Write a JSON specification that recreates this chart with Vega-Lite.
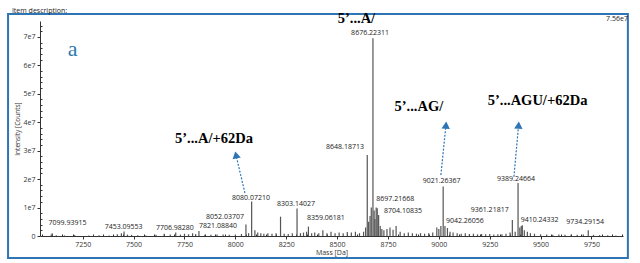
{
  "$schema": "https://vega.github.io/schema/vega-lite/v6.json",
  "width": 583,
  "height": 215,
  "autosize": "none",
  "padding": {"left": 40, "top": 21, "right": 17, "bottom": 27},
  "background": "white",
  "config": {"view": {"stroke": null}, "font": "Open Sans"},
  "datasets": {
    "spectrum": [
      {"mass": 7095, "intensity": 500000}, {"mass": 7099.94, "intensity": 1000000}, {"mass": 7120, "intensity": 300000},
      {"mass": 7160, "intensity": 200000}, {"mass": 7210, "intensity": 300000}, {"mass": 7280, "intensity": 200000},
      {"mass": 7330, "intensity": 300000}, {"mass": 7380, "intensity": 200000}, {"mass": 7420, "intensity": 600000},
      {"mass": 7440, "intensity": 1000000}, {"mass": 7453.1, "intensity": 1600000}, {"mass": 7470, "intensity": 500000},
      {"mass": 7490, "intensity": 400000}, {"mass": 7520, "intensity": 300000}, {"mass": 7560, "intensity": 200000},
      {"mass": 7610, "intensity": 400000}, {"mass": 7650, "intensity": 800000}, {"mass": 7680, "intensity": 500000},
      {"mass": 7706.98, "intensity": 1200000}, {"mass": 7730, "intensity": 500000}, {"mass": 7750, "intensity": 800000},
      {"mass": 7770, "intensity": 600000}, {"mass": 7790, "intensity": 1000000}, {"mass": 7805, "intensity": 600000},
      {"mass": 7821.09, "intensity": 1800000}, {"mass": 7850, "intensity": 400000}, {"mass": 7880, "intensity": 400000},
      {"mass": 7910, "intensity": 500000}, {"mass": 7940, "intensity": 500000}, {"mass": 7970, "intensity": 400000},
      {"mass": 8000, "intensity": 500000}, {"mass": 8030, "intensity": 700000}, {"mass": 8052.04, "intensity": 4000000},
      {"mass": 8065, "intensity": 1000000}, {"mass": 8080.07, "intensity": 12100000}, {"mass": 8096, "intensity": 2000000},
      {"mass": 8110, "intensity": 1200000}, {"mass": 8125, "intensity": 1000000}, {"mass": 8140, "intensity": 800000},
      {"mass": 8160, "intensity": 1000000}, {"mass": 8180, "intensity": 800000}, {"mass": 8200, "intensity": 1000000},
      {"mass": 8222, "intensity": 6800000}, {"mass": 8240, "intensity": 800000}, {"mass": 8260, "intensity": 700000},
      {"mass": 8280, "intensity": 1000000}, {"mass": 8303.14, "intensity": 9700000}, {"mass": 8320, "intensity": 1000000},
      {"mass": 8335, "intensity": 1200000}, {"mass": 8350, "intensity": 1500000}, {"mass": 8359.06, "intensity": 3300000},
      {"mass": 8375, "intensity": 1000000}, {"mass": 8390, "intensity": 1200000}, {"mass": 8410, "intensity": 1000000},
      {"mass": 8430, "intensity": 2000000}, {"mass": 8450, "intensity": 1000000}, {"mass": 8470, "intensity": 1500000},
      {"mass": 8490, "intensity": 1000000}, {"mass": 8510, "intensity": 1200000}, {"mass": 8530, "intensity": 1000000},
      {"mass": 8550, "intensity": 1400000}, {"mass": 8570, "intensity": 1200000}, {"mass": 8590, "intensity": 1500000},
      {"mass": 8610, "intensity": 1000000}, {"mass": 8630, "intensity": 1500000}, {"mass": 8640, "intensity": 3000000},
      {"mass": 8648.19, "intensity": 28500000}, {"mass": 8655, "intensity": 5000000}, {"mass": 8662, "intensity": 7000000},
      {"mass": 8668, "intensity": 10000000}, {"mass": 8676.22, "intensity": 69500000}, {"mass": 8682, "intensity": 9000000},
      {"mass": 8686, "intensity": 6000000}, {"mass": 8692, "intensity": 10000000}, {"mass": 8697.22, "intensity": 9800000},
      {"mass": 8704.11, "intensity": 7400000}, {"mass": 8712, "intensity": 3500000}, {"mass": 8720, "intensity": 2500000},
      {"mass": 8730, "intensity": 2000000}, {"mass": 8745, "intensity": 2500000}, {"mass": 8760, "intensity": 3000000},
      {"mass": 8775, "intensity": 2200000}, {"mass": 8790, "intensity": 3500000}, {"mass": 8810, "intensity": 1500000},
      {"mass": 8830, "intensity": 1000000}, {"mass": 8850, "intensity": 1200000}, {"mass": 8870, "intensity": 1000000},
      {"mass": 8890, "intensity": 800000}, {"mass": 8910, "intensity": 1000000}, {"mass": 8930, "intensity": 800000},
      {"mass": 8950, "intensity": 1000000}, {"mass": 8970, "intensity": 1200000}, {"mass": 8990, "intensity": 3000000},
      {"mass": 9000, "intensity": 2500000}, {"mass": 9010, "intensity": 3500000}, {"mass": 9021.26, "intensity": 17400000},
      {"mass": 9030, "intensity": 3500000}, {"mass": 9042.26, "intensity": 2800000}, {"mass": 9055, "intensity": 1500000},
      {"mass": 9070, "intensity": 1200000}, {"mass": 9090, "intensity": 1000000}, {"mass": 9110, "intensity": 800000},
      {"mass": 9130, "intensity": 1000000}, {"mass": 9150, "intensity": 700000}, {"mass": 9170, "intensity": 800000},
      {"mass": 9190, "intensity": 600000}, {"mass": 9210, "intensity": 700000}, {"mass": 9230, "intensity": 600000},
      {"mass": 9250, "intensity": 700000}, {"mass": 9270, "intensity": 500000}, {"mass": 9290, "intensity": 600000},
      {"mass": 9310, "intensity": 600000}, {"mass": 9330, "intensity": 800000}, {"mass": 9350, "intensity": 1200000},
      {"mass": 9361.22, "intensity": 5600000}, {"mass": 9375, "intensity": 1500000}, {"mass": 9389.25, "intensity": 18600000},
      {"mass": 9398, "intensity": 3000000}, {"mass": 9405, "intensity": 3500000}, {"mass": 9410.24, "intensity": 3800000},
      {"mass": 9420, "intensity": 2000000}, {"mass": 9435, "intensity": 1500000}, {"mass": 9450, "intensity": 1000000},
      {"mass": 9470, "intensity": 800000}, {"mass": 9500, "intensity": 600000}, {"mass": 9530, "intensity": 500000},
      {"mass": 9560, "intensity": 400000}, {"mass": 9590, "intensity": 500000}, {"mass": 9620, "intensity": 400000},
      {"mass": 9650, "intensity": 500000}, {"mass": 9680, "intensity": 400000}, {"mass": 9710, "intensity": 500000},
      {"mass": 9734.29, "intensity": 2000000}, {"mass": 9760, "intensity": 400000}, {"mass": 9790, "intensity": 300000},
      {"mass": 9830, "intensity": 300000}, {"mass": 9870, "intensity": 200000}
    ],
    "peakLabels": [
      {"mass": 7175, "intensity": 4680000, "text": "7099.93915"},
      {"mass": 7451, "intensity": 3270000, "text": "7453.09553"},
      {"mass": 7703, "intensity": 2900000, "text": "7706.98280"},
      {"mass": 7915, "intensity": 3620000, "text": "7821.08840"},
      {"mass": 7949, "intensity": 6570000, "text": "8052.03707"},
      {"mass": 8077, "intensity": 13470000, "text": "8080.07210"},
      {"mass": 8298, "intensity": 11250000, "text": "8303.14027"},
      {"mass": 8445, "intensity": 6430000, "text": "8359.06181"},
      {"mass": 8539, "intensity": 31300000, "text": "8648.18713"},
      {"mass": 8662, "intensity": 71400000, "text": "8676.22311"},
      {"mass": 8786, "intensity": 13000000, "text": "8697.21668"},
      {"mass": 8824, "intensity": 8680000, "text": "8704.10835"},
      {"mass": 9014, "intensity": 19340000, "text": "9021.26367"},
      {"mass": 9128, "intensity": 5270000, "text": "9042.26056"},
      {"mass": 9250, "intensity": 9040000, "text": "9361.21817"},
      {"mass": 9379, "intensity": 19940000, "text": "9389.24664"},
      {"mass": 9495, "intensity": 5630000, "text": "9410.24332"},
      {"mass": 9719, "intensity": 4850000, "text": "9734.29154"}
    ],
    "annotations": [
      {"mass": 8595, "intensity": 76300000, "text": "5’...A/"},
      {"mass": 8902, "intensity": 45460000, "text": "5’...AG/"},
      {"mass": 9485, "intensity": 47570000, "text": "5’...AGU/+62Da"},
      {"mass": 7895, "intensity": 34000000, "text": "5’...A/+62Da"}
    ],
    "arrows": [
      {"m1": 8047, "i1": 15120000, "m2": 8003, "i2": 28500000},
      {"m1": 9010, "i1": 21450000, "m2": 9035, "i2": 39000000},
      {"m1": 9369, "i1": 20850000, "m2": 9392, "i2": 39000000}
    ],
    "frame": [
      {"m1": 6883, "m2": 9929, "i1": -7736000, "i2": 78060000}
    ],
    "misc": [
      {"mass": 6902, "intensity": 79100000, "text": "Item description:"},
      {"mass": 9929, "intensity": 76300000, "text": "7.56e7"}
    ],
    "letter": [
      {"mass": 7200, "intensity": 65650000, "text": "a"}
    ]
  },
  "encoding": {
    "x": {
      "type": "quantitative",
      "scale": {"domain": [7040, 9905], "nice": false, "zero": false},
      "axis": {
        "title": "Mass [Da]",
        "values": [7050, 7100, 7150, 7200, 7250, 7300, 7350, 7400, 7450, 7500, 7550, 7600, 7650, 7700, 7750, 7800, 7850, 7900, 7950, 8000, 8050, 8100, 8150, 8200, 8250, 8300, 8350, 8400, 8450, 8500, 8550, 8600, 8650, 8700, 8750, 8800, 8850, 8900, 8950, 9000, 9050, 9100, 9150, 9200, 9250, 9300, 9350, 9400, 9450, 9500, 9550, 9600, 9650, 9700, 9750, 9800, 9850, 9900],
        "labelExpr": "datum.value % 250 == 0 ? format(datum.value, 'd') : ''",
        "tickSize": {"condition": {"test": "datum.value % 250 == 0", "value": 3}, "value": -2},
        "grid": false, "labelFontSize": 7, "labelColor": "#333333",
        "tickColor": "#333333", "domainColor": "#333333", "titleFontSize": 7, "titleFontWeight": "normal",
        "titleColor": "#333333", "titlePadding": 1, "labelPadding": 1, "labelOverlap": false
      }
    },
    "y": {
      "type": "quantitative",
      "scale": {"domain": [0, 75600000], "nice": false, "zero": true},
      "axis": {
        "title": "Intensity [Counts]",
        "values": [0, 2000000, 4000000, 6000000, 8000000, 10000000, 12000000, 14000000, 16000000, 18000000, 20000000, 22000000, 24000000, 26000000, 28000000, 30000000, 32000000, 34000000, 36000000, 38000000, 40000000, 42000000, 44000000, 46000000, 48000000, 50000000, 52000000, 54000000, 56000000, 58000000, 60000000, 62000000, 64000000, 66000000, 68000000, 70000000, 72000000, 74000000],
        "labelExpr": "datum.value == 0 ? '0' : (datum.value % 10000000 == 0 ? format(datum.value / 10000000, 'd') + 'e7' : '')",
        "tickSize": {"condition": {"test": "datum.value % 10000000 == 0", "value": 3}, "value": -2},
        "grid": false, "labelFontSize": 7, "labelColor": "#333333", "tickColor": "#333333",
        "domainColor": "#333333", "titleFontSize": 6.5, "titleFontWeight": "normal", "titleColor": "#333333",
        "titlePadding": 3, "labelPadding": 2, "labelOverlap": false
      }
    }
  },
  "layer": [
    {
      "data": {"name": "spectrum"},
      "mark": {"type": "rule", "color": "#555555", "strokeWidth": 1.2},
      "encoding": {
        "x": {"field": "mass"},
        "y": {"field": "intensity"},
        "y2": {"datum": 0}
      }
    },
    {
      "data": {"name": "frame"},
      "mark": {"type": "rect", "filled": false, "stroke": "#2e75b6", "strokeWidth": 2, "clip": false},
      "encoding": {
        "x": {"field": "m1"},
        "x2": {"field": "m2"},
        "y": {"field": "i1"},
        "y2": {"field": "i2"}
      }
    },
    {
      "data": {"name": "peakLabels"},
      "mark": {"type": "text", "fontSize": 7, "fill": "#1a1a1a", "align": "center", "baseline": "middle", "clip": false},
      "encoding": {
        "x": {"field": "mass"},
        "y": {"field": "intensity"},
        "text": {"field": "text"}
      }
    },
    {
      "data": {"name": "arrows"},
      "mark": {"type": "rule", "color": "#2e75b6", "strokeWidth": 1.2, "strokeDash": [2, 1.5]},
      "encoding": {
        "x": {"field": "m1"},
        "x2": {"field": "m2"},
        "y": {"field": "i1"},
        "y2": {"field": "i2"}
      }
    },
    {
      "data": {"name": "arrows"},
      "transform": [{"filter": "datum.m1 > 8500"}],
      "mark": {"type": "point", "shape": "triangle-up", "filled": true, "color": "#2e75b6", "size": 70, "opacity": 1, "angle": 4},
      "encoding": {
        "x": {"field": "m2"},
        "y": {"field": "i2"}
      }
    },
    {
      "data": {"name": "arrows"},
      "transform": [{"filter": "datum.m1 < 8500"}],
      "mark": {"type": "point", "shape": "triangle-up", "filled": true, "color": "#2e75b6", "size": 70, "opacity": 1, "angle": -12},
      "encoding": {
        "x": {"field": "m2"},
        "y": {"field": "i2"}
      }
    },
    {
      "data": {"name": "annotations"},
      "mark": {"type": "text", "font": "Liberation Serif", "fontWeight": "bold", "fontSize": 14.5, "fill": "#000000", "align": "center", "baseline": "middle", "clip": false},
      "encoding": {
        "x": {"field": "mass"},
        "y": {"field": "intensity"},
        "text": {"field": "text"}
      }
    },
    {
      "data": {"name": "misc"},
      "mark": {"type": "text", "fontSize": 7, "fill": "#1a1a1a", "align": "left", "baseline": "middle", "clip": false},
      "transform": [{"filter": "datum.text != '7.56e7'"}],
      "encoding": {
        "x": {"field": "mass"},
        "y": {"field": "intensity"},
        "text": {"field": "text"}
      }
    },
    {
      "data": {"name": "misc"},
      "mark": {"type": "text", "fontSize": 7, "fill": "#1a1a1a", "align": "right", "baseline": "middle", "clip": false},
      "transform": [{"filter": "datum.text == '7.56e7'"}],
      "encoding": {
        "x": {"field": "mass"},
        "y": {"field": "intensity"},
        "text": {"field": "text"}
      }
    },
    {
      "data": {"name": "letter"},
      "mark": {"type": "text", "font": "Liberation Serif", "fontSize": 22, "fill": "#2a79ad", "align": "center", "baseline": "middle", "clip": false},
      "encoding": {
        "x": {"field": "mass"},
        "y": {"field": "intensity"},
        "text": {"field": "text"}
      }
    }
  ]
}
